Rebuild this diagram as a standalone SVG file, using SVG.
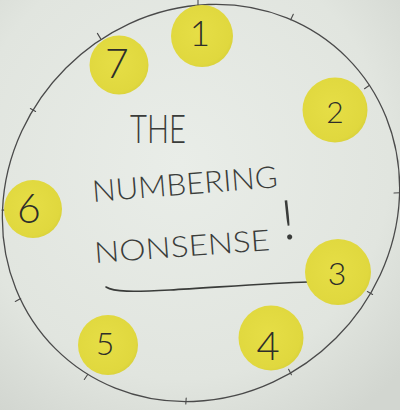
<svg xmlns="http://www.w3.org/2000/svg" width="400" height="410" viewBox="0 0 400 410">
  <defs>
    <radialGradient id="paper" cx="45%" cy="40%" r="75%">
      <stop offset="0" stop-color="#e9ede8"/>
      <stop offset="0.7" stop-color="#e1e5df"/>
      <stop offset="1" stop-color="#d2d6d0"/>
    </radialGradient>
    <radialGradient id="sticker" cx="45%" cy="45%" r="60%">
      <stop offset="0" stop-color="#e6de46"/>
      <stop offset="0.85" stop-color="#e0d83e"/>
      <stop offset="1" stop-color="#d6cf3a"/>
    </radialGradient>
    <style>
      .ring { fill: none; stroke: #4a4a4a; stroke-width: 1.3; }
      .tick { stroke: #4a4a4a; stroke-width: 1.1; stroke-linecap: round; }
      .dot { fill: url(#sticker); }
      .num { font-family: Lato, "Liberation Sans", sans-serif; font-weight: 300; fill: #2e2e2a; text-anchor: middle; }
      .hand { font-family: Lato, "Liberation Sans", sans-serif; font-weight: 300; fill: #3a3c3a; }
      .pencil { fill: none; stroke: #3a3c3a; stroke-width: 1.6; stroke-linecap: round; }
    </style>
  </defs>

  <rect x="0" y="0" width="400" height="410" fill="url(#paper)"/>

  <g id="ring">
    <ellipse class="ring" cx="201" cy="203" rx="206" ry="191" transform="rotate(-45 201 203)"/>
    <line class="tick" x1="198" y1="0" x2="198" y2="6"/>
    <line class="tick" x1="290.7" y1="19.7" x2="293.3" y2="14.3"/>
    <line class="tick" x1="364.5" y1="88.7" x2="369.5" y2="85.3"/>
    <line class="tick" x1="394" y1="193" x2="400" y2="192.7"/>
    <line class="tick" x1="367.4" y1="291.6" x2="372.6" y2="294.4"/>
    <line class="tick" x1="288.6" y1="369.3" x2="291.4" y2="374.7"/>
    <line class="tick" x1="186.2" y1="398" x2="185.8" y2="404"/>
    <line class="tick" x1="87.7" y1="374.5" x2="84.3" y2="379.5"/>
    <line class="tick" x1="20.7" y1="298.6" x2="15.3" y2="301.4"/>
    <line class="tick" x1="8" y1="209.9" x2="2" y2="210.1"/>
    <line class="tick" x1="35.6" y1="111.5" x2="30.4" y2="108.5"/>
    <line class="tick" x1="100.6" y1="38.6" x2="97.4" y2="33.4"/>
  </g>

  <g id="title">
    <text class="hand" x="130" y="143" font-size="39" textLength="56" lengthAdjust="spacingAndGlyphs">THE</text>
    <text class="hand" x="93" y="202" font-size="30" textLength="186" lengthAdjust="spacingAndGlyphs" transform="rotate(-4.6 93 202)">NUMBERING</text>
    <text class="hand" x="95" y="263" font-size="29" textLength="176" lengthAdjust="spacingAndGlyphs" transform="rotate(-4.2 95 263)">NONSENSE</text>
    <text class="hand" x="281" y="239" font-size="55" font-weight="200" transform="rotate(-6 288 220)">!</text>
    <path class="pencil" d="M106,287 C114,292 132,292 170,290 S270,283 308,282"/>
  </g>

  <g id="node-1">
    <circle class="dot" cx="202" cy="36" r="31"/>
    <text class="num" x="200" y="46" font-size="35">1</text>
  </g>
  <g id="node-2">
    <circle class="dot" cx="335" cy="110" r="32.5"/>
    <text class="num" x="335" y="123" font-size="30">2</text>
  </g>
  <g id="node-3">
    <circle class="dot" cx="338" cy="272" r="33"/>
    <text class="num" x="337" y="285" font-size="32">3</text>
  </g>
  <g id="node-4">
    <circle class="dot" cx="271" cy="338" r="32.5"/>
    <text class="num" x="268" y="360" font-size="40">4</text>
  </g>
  <g id="node-5">
    <circle class="dot" cx="108" cy="345" r="30"/>
    <text class="num" x="105" y="355" font-size="32">5</text>
  </g>
  <g id="node-6">
    <circle class="dot" cx="33" cy="209" r="29"/>
    <text class="num" x="29" y="223" font-size="41">6</text>
  </g>
  <g id="node-7">
    <circle class="dot" cx="119" cy="65" r="29.5"/>
    <text class="num" x="117" y="78" font-size="41">7</text>
  </g>
</svg>
